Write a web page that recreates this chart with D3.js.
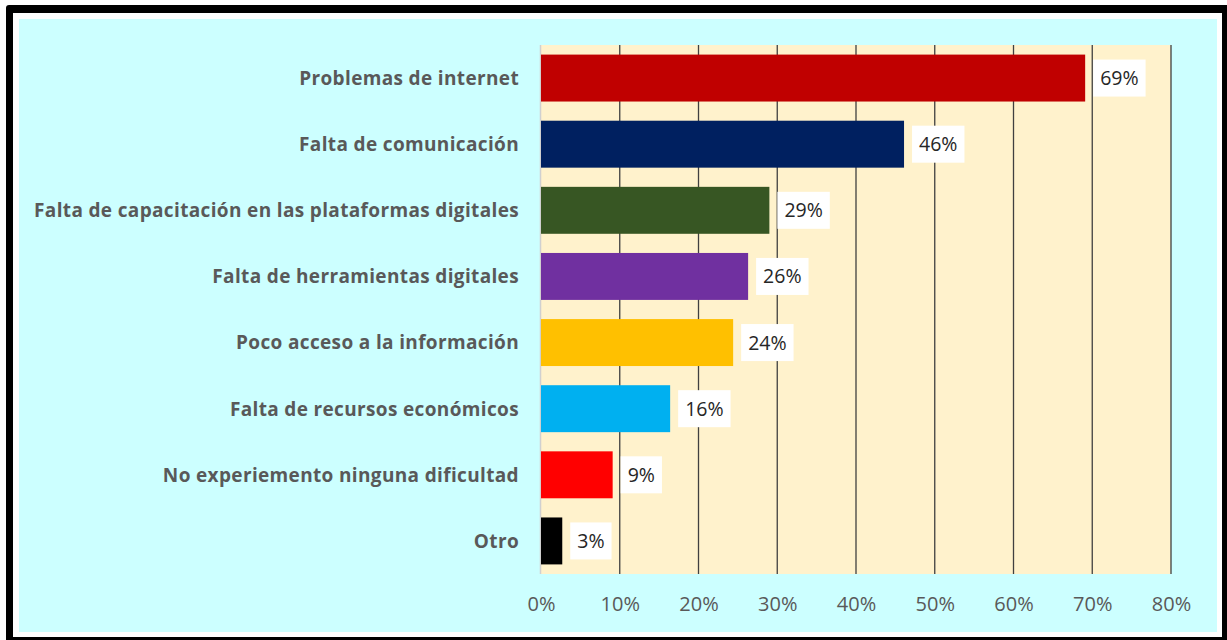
<!DOCTYPE html>
<meta charset="utf-8">
<style>
  body { margin: 0; background: #fff; }
  .tick text { font-family: "Open Sans", sans-serif; }
</style>
<body>
<div id="chart"></div>
<script src="https://d3js.org/d3.v7.min.js"></script>
<script>
// data
var categories = [
  "Problemas de internet",
  "Falta de comunicación",
  "Falta de capacitación en las plataformas digitales",
  "Falta de herramientas digitales",
  "Poco acceso a la información",
  "Falta de recursos económicos",
  "No experiemento ninguna dificultad",
  "Otro"
];
var values = [69.1, 46.1, 29.0, 26.3, 24.4, 16.4, 9.1, 2.7];
var barColors = ["#C00000", "#002060", "#375623", "#7030A0", "#FFC000", "#00B0F0", "#FF0000", "#000000"];
var ticks = [0, 10, 20, 30, 40, 50, 60, 70, 80];

var W = 1227, H = 640;
var margin = {top: 45, left: 541, right: 56, bottom: 66};

var svg = d3.select("#chart").append("svg")
    .attr("width", W)
    .attr("height", H);

// frame: black border, white gap, cyan chart area
svg.append("rect").attr("x", 6).attr("y", 5).attr("width", W).attr("height", H)
    .attr("rx", 3).style("fill", "#000");
svg.append("rect").attr("x", 13).attr("y", 13).attr("width", 1209).attr("height", 624)
    .style("fill", "#fff");
svg.append("rect").attr("x", 19).attr("y", 19).attr("width", 1198).attr("height", 613)
    .style("fill", "#CCFFFF");

var x = d3.scaleLinear()
    .domain([0, 80])
    .range([margin.left, W - margin.right]);

var y = d3.scaleBand()
    .domain(categories)
    .range([margin.top, H - margin.bottom])
    .paddingInner(0.29)
    .paddingOuter(0.145);

// plot area
svg.append("rect")
    .attr("x", x(0)).attr("y", margin.top)
    .attr("width", x(80) - x(0)).attr("height", H - margin.bottom - margin.top)
    .style("fill", "#FFF2CC");

// grid lines
svg.selectAll("line.grid")
    .data(ticks.slice(1))
  .enter().append("line")
    .attr("class", "grid")
    .attr("x1", function(d) { return x(d); })
    .attr("x2", function(d) { return x(d); })
    .attr("y1", margin.top)
    .attr("y2", H - margin.bottom)
    .style("stroke", "#404040")
    .style("stroke-width", 1.3);

// category axis line
svg.append("line")
    .attr("x1", x(0) - 0.5).attr("x2", x(0) - 0.5)
    .attr("y1", margin.top).attr("y2", H - margin.bottom)
    .style("stroke", "#d0d0d0")
    .style("stroke-width", 1.5);

// bars
svg.selectAll("rect.bar")
    .data(values)
  .enter().append("rect")
    .attr("class", "bar")
    .attr("x", x(0))
    .attr("y", function(d, i) { return y(categories[i]); })
    .attr("width", function(d) { return x(d) - x(0); })
    .attr("height", y.bandwidth())
    .style("fill", function(d, i) { return barColors[i]; });

// value labels in white boxes
var lab = svg.selectAll("g.lab")
    .data(values)
  .enter().append("g")
    .attr("class", "lab")
    .attr("transform", function(d, i) {
      return "translate(" + (x(d) + 8) + "," + (y(categories[i]) + y.bandwidth() / 2) + ")";
    });

lab.append("text")
    .attr("x", 7)
    .attr("dy", "0.36em")
    .style("font-family", "'Open Sans', sans-serif")
    .style("font-size", "19.5px")
    .style("fill", "#262626")
    .text(function(d) { return Math.round(d) + "%"; });

lab.insert("rect", "text")
    .attr("y", -18.5)
    .attr("height", 37)
    .attr("width", function() {
      return this.parentNode.querySelector("text").getComputedTextLength() + 14;
    })
    .style("fill", "#fff");

// category labels
svg.selectAll("text.cat")
    .data(categories)
  .enter().append("text")
    .attr("class", "cat")
    .attr("x", 519)
    .attr("y", function(d) { return y(d) + y.bandwidth() / 2; })
    .attr("dy", "0.36em")
    .attr("text-anchor", "end")
    .style("font-family", "'Open Sans', sans-serif")
    .style("font-weight", "bold")
    .style("font-size", "19px")
    .style("letter-spacing", "0.35px")
    .style("fill", "#595959")
    .text(function(d) { return d; });

// x axis
var xAxis = svg.append("g")
    .attr("transform", "translate(0," + (H - margin.bottom) + ")")
    .call(d3.axisBottom(x).tickValues(ticks).tickSize(0).tickPadding(23)
      .tickFormat(function(d) { return d + "%"; }));
xAxis.select(".domain").remove();
xAxis.selectAll("text")
    .style("font-size", "20px")
    .style("fill", "#595959");
</script>
</body>
